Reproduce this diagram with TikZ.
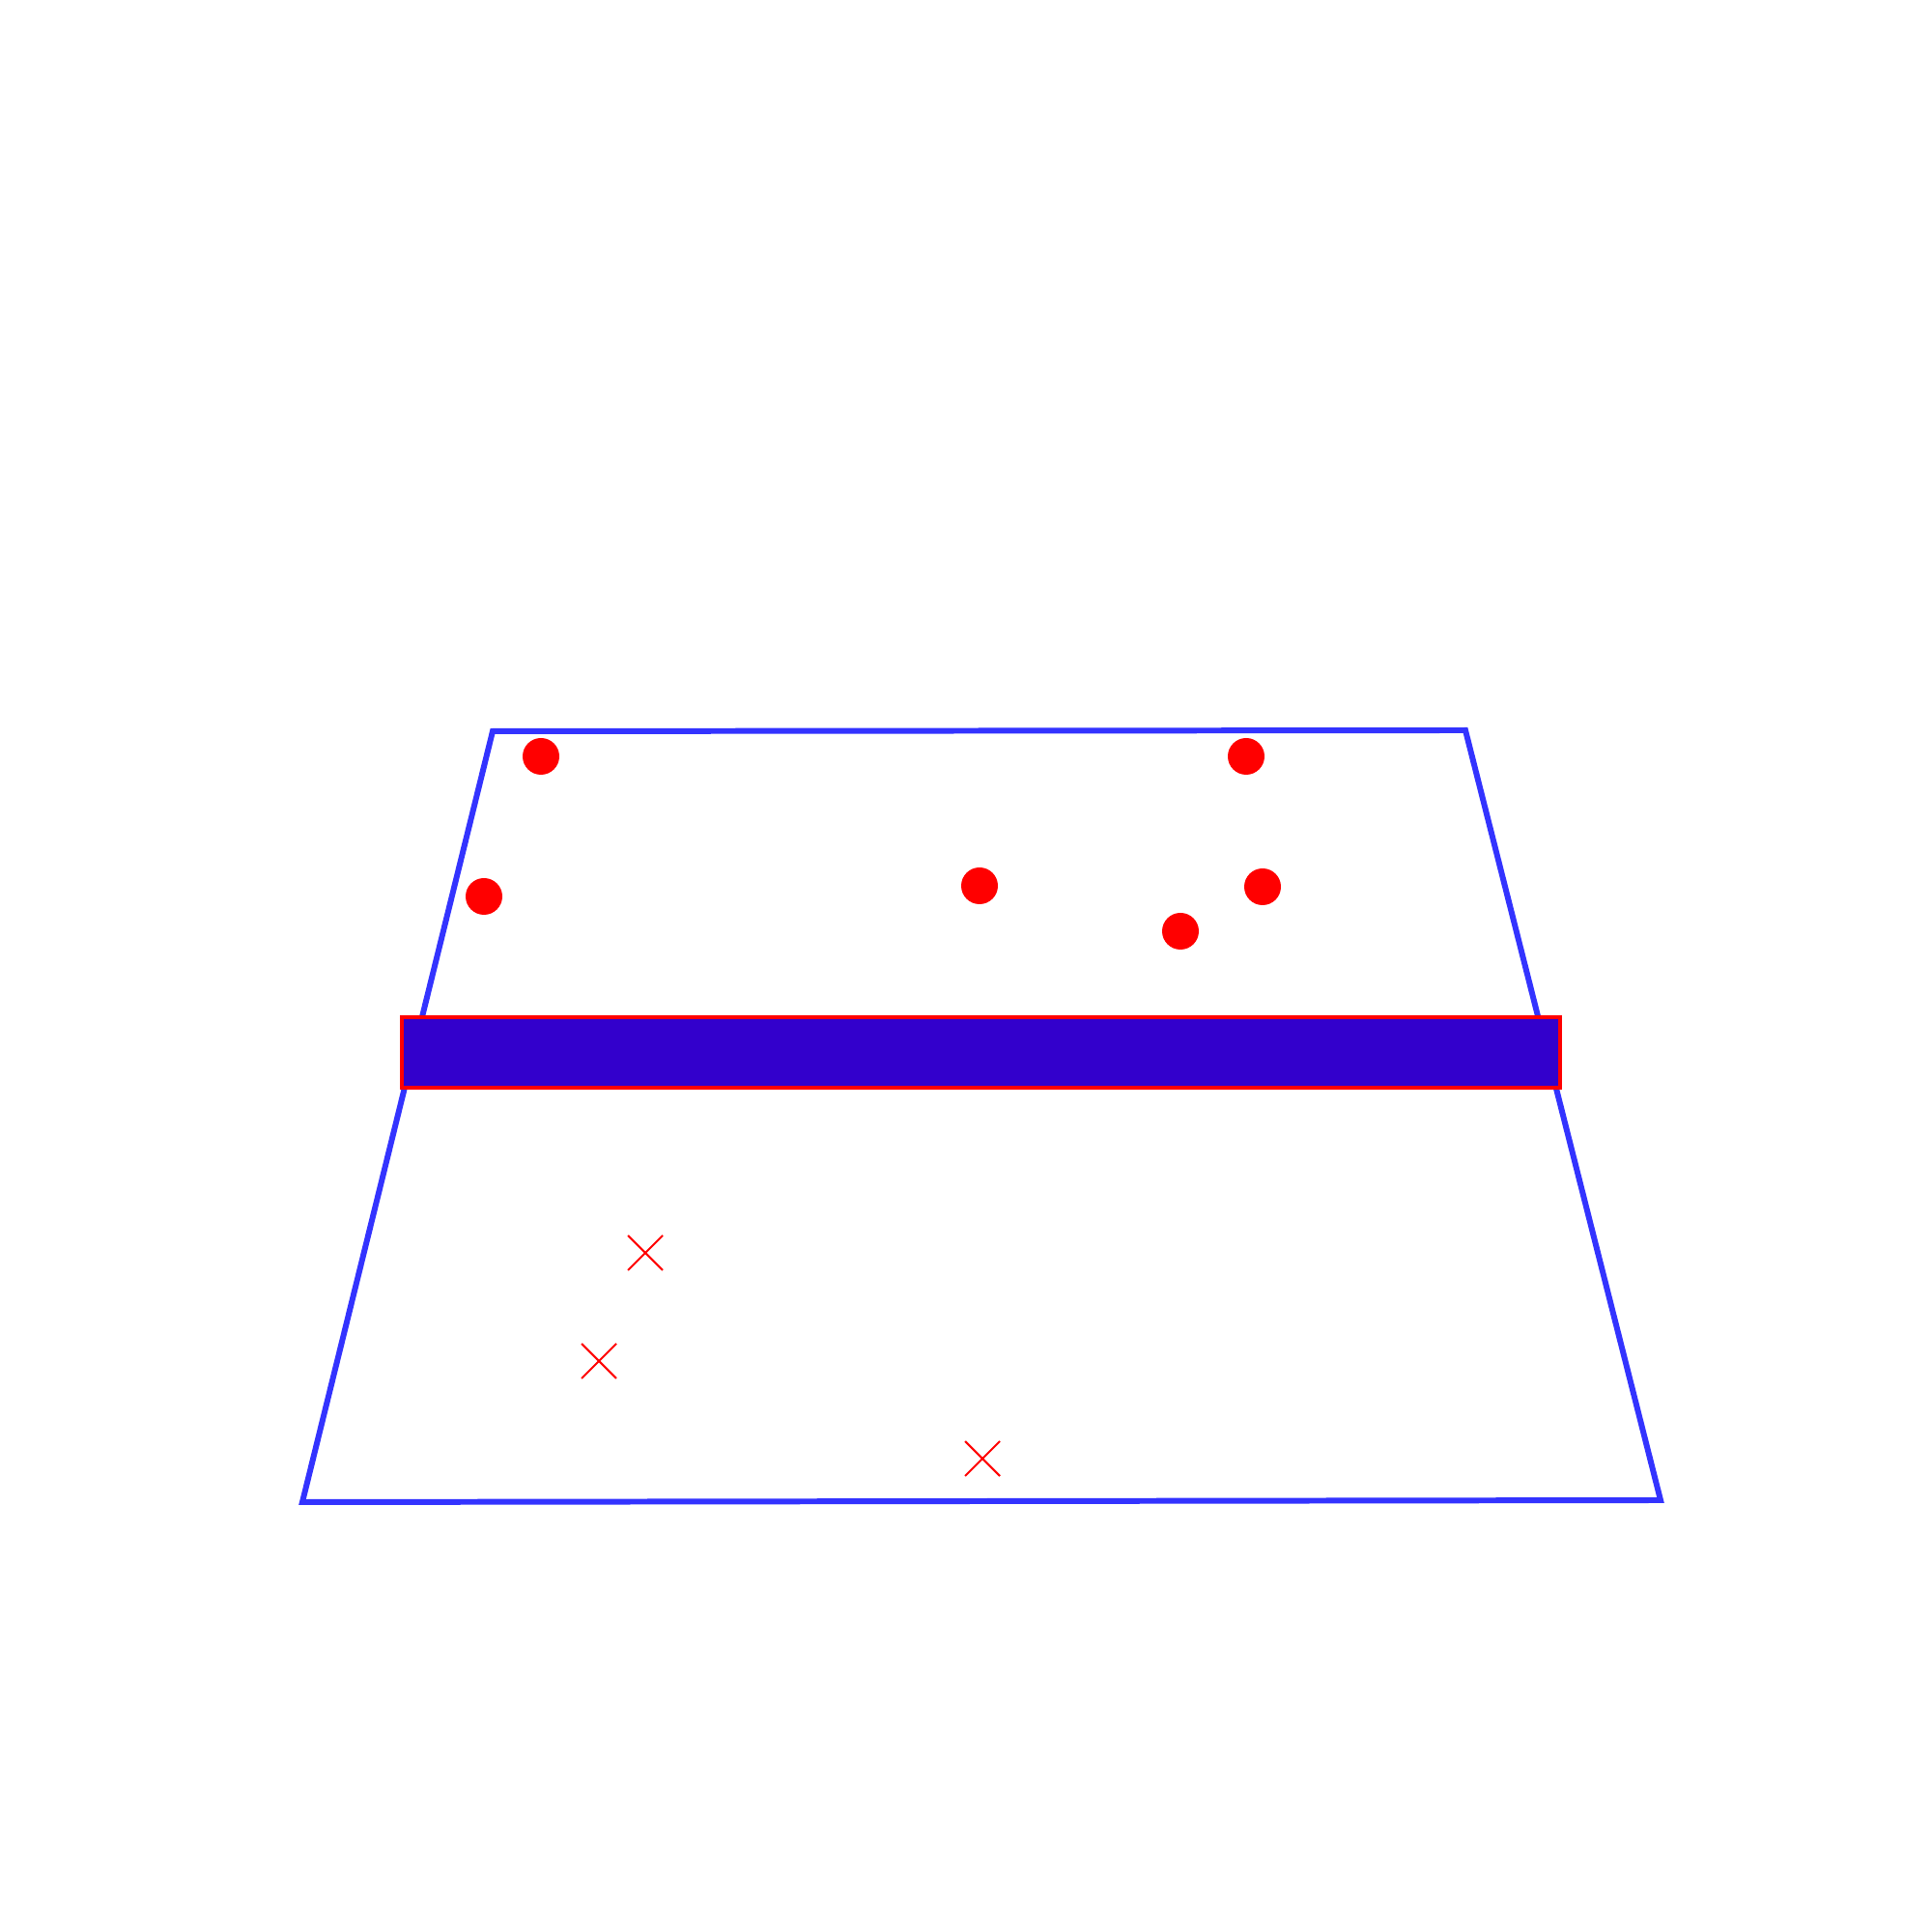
\documentclass[tikz,border=0pt]{standalone}
\usepackage{tikz}
\usetikzlibrary{calc}
\definecolor{edgeblue}{HTML}{3333FF}
\definecolor{barfill}{HTML}{3300CC}
\begin{document}
\begin{tikzpicture}[line join=miter]
\useasboundingbox (0,0) rectangle (20,20);
\pgfmathsetmacro{\dd}{0.19}
\pgfmathsetmacro{\cc}{0.18}
\coordinate (tl) at (5.10,12.43);
\coordinate (tr) at (15.17,12.44);
\coordinate (bl) at (3.13,4.45);
\coordinate (br) at (17.19,4.47);
\draw[edgeblue,line width=1.7pt] (tl)--(tr)--(br)--(bl)--cycle;
\draw[red,fill=barfill,line width=0.9pt] (4.16,8.74) rectangle (16.15,9.47);
\foreach \x/\y in {5.60/12.17,12.90/12.17,5.01/10.72,10.14/10.83,13.07/10.82,12.22/10.36}
  \fill[red] (\x,\y) circle(\dd);
\foreach \x/\y in {6.68/7.03,6.20/5.91,10.17/4.90}
  \draw[red,line width=0.6pt] (\x-\cc,\y-\cc)--(\x+\cc,\y+\cc) (\x-\cc,\y+\cc)--(\x+\cc,\y-\cc);
\end{tikzpicture}
\end{document}
